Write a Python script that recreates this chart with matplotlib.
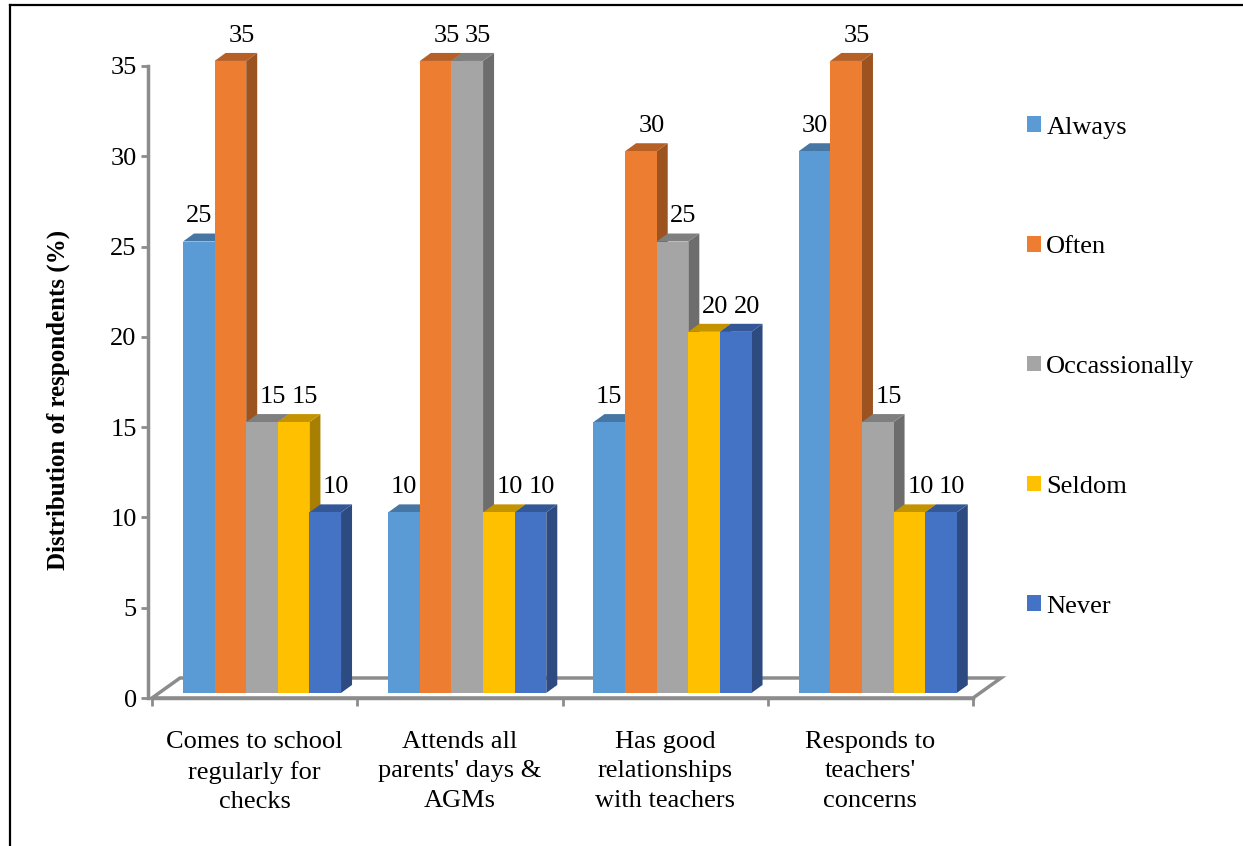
import numpy as np
import matplotlib.pyplot as plt
from matplotlib.patches import Polygon, Patch
from matplotlib.lines import Line2D
from matplotlib.colors import to_rgb

plt.rcParams['font.family'] = ['Liberation Serif', 'DejaVu Serif']
plt.rcParams['font.size'] = 19

categories = ['Comes to school\nregularly for\nchecks',
              "Attends all\nparents' days &\nAGMs",
              'Has good\nrelationships\nwith teachers',
              "Responds to\nteachers'\nconcerns"]
series = ['Always', 'Often', 'Occassionally', 'Seldom', 'Never']
always = [25, 10, 15, 30]
often = [35, 35, 30, 35]
occasionally = [15, 35, 25, 15]
seldom = [15, 10, 20, 10]
never = [10, 10, 20, 10]
values = [always, often, occasionally, seldom, never]
colors = ['#5B9BD5', '#ED7D31', '#A5A5A5', '#FFC000', '#4472C4']
yticks = [0, 5, 10, 15, 20, 25, 30, 35]

W, H = 1243, 846
fig = plt.figure(figsize=(W / 100, H / 100), dpi=100)
ax = fig.add_axes([152 / W, (H - 698) / H, 821 / W, 632 / H])
ax.set_xlim(0, 4)
ax.set_ylim(0, 35)

grey = '#8C8C8C'

# 3d look: depth offsets in data units
bar_dx, bar_dy = 11 / 205.25, 8 / 18.06
floor_dx, floor_dy = 28 / 205.25, 20 / 18.06
base = 0.28
bar_w = 0.154
group_off = 0.151

def shade(c, f):
    r, g, b = to_rgb(c)
    return (r * f, g * f, b * f)

# floor
floor = Polygon([(0, 0), (4, 0), (4 + floor_dx, floor_dy), (floor_dx, floor_dy)],
                closed=True, facecolor='white', edgecolor=grey, lw=2.5,
                clip_on=False, zorder=1)
ax.add_patch(floor)

labels_to_draw = []
for gi in range(len(categories)):
    for si in range(len(series)):
        v = values[si][gi]
        x0 = gi + group_off + si * bar_w
        x1 = x0 + bar_w
        y0, y1 = base, base + v
        c = colors[si]
        z = 3 + gi * 10 + si
        front = Polygon([(x0, y0), (x1, y0), (x1, y1), (x0, y1)],
                        facecolor=c, edgecolor='none', clip_on=False, zorder=z)
        side = Polygon([(x1, y0), (x1 + bar_dx, y0 + bar_dy),
                        (x1 + bar_dx, y1 + bar_dy), (x1, y1)],
                       facecolor=shade(c, 0.66), edgecolor='none', clip_on=False, zorder=z)
        top = Polygon([(x0, y1), (x1, y1), (x1 + bar_dx, y1 + bar_dy),
                       (x0 + bar_dx, y1 + bar_dy)],
                      facecolor=shade(c, 0.77), edgecolor='none', clip_on=False, zorder=z)
        ax.add_patch(side)
        ax.add_patch(top)
        ax.add_patch(front)
        # first series labels sit left, next to the taller orange bar
        lx = (x0 + x1) / 2 + (0 if si == 0 else bar_dx)
        labels_to_draw.append((lx, y1 + bar_dy, v))

for x, y, v in labels_to_draw:
    ax.annotate(str(v), (x, y), xytext=(0, 4.5), textcoords='offset points',
                ha='center', va='bottom', fontsize=19, zorder=100,
                annotation_clip=False)

# axes styling
for s in ['top', 'right']:
    ax.spines[s].set_visible(False)
ax.spines['left'].set_position(('outward', 3))
ax.spines['left'].set_color(grey)
ax.spines['left'].set_linewidth(2.5)
ax.spines['bottom'].set_color(grey)
ax.spines['bottom'].set_linewidth(2.5)
ax.spines['bottom'].set_zorder(2)
ax.set_yticks(yticks)
ax.tick_params(axis='y', direction='out', length=5, width=2, color=grey, pad=3,
               labelsize=19)
ax.set_xticks([0, 1, 2, 3, 4])
ax.set_xticklabels([])
ax.set_xticks([0.5, 1.5, 2.5, 3.5], minor=True)
ax.set_xticklabels(categories, minor=True, fontsize=19)
for t in ax.get_xticklabels(minor=True):
    t.set_linespacing(1.42)
ax.tick_params(axis='x', which='major', direction='out', length=6, width=2, color=grey)
ax.tick_params(axis='x', which='minor', length=0, pad=24)
ax.patch.set_visible(False)

ax.set_ylabel('Distribution of respondents (%)', fontsize=18, fontweight='bold')
ax.yaxis.set_label_coords((70 - 152) / 821, (698 - 400) / 632)

handles = [Patch(facecolor=c, edgecolor='none') for c in colors]
ax.legend(handles, series, loc='center left', frameon=False,
          bbox_to_anchor=(1027 / W, (H - 367) / H), bbox_transform=fig.transFigure,
          borderpad=0, borderaxespad=0, handlelength=0.53, handleheight=0.53,
          handletextpad=0.2, labelspacing=3.7, fontsize=19)

# chart border
fig.add_artist(Line2D([10 / W, 10 / W], [0, (H - 5) / H], color='black', lw=1.6))
fig.add_artist(Line2D([10 / W, 1], [(H - 5) / H, (H - 5) / H], color='black', lw=1.6))

fig.savefig('out.png', dpi=100)
